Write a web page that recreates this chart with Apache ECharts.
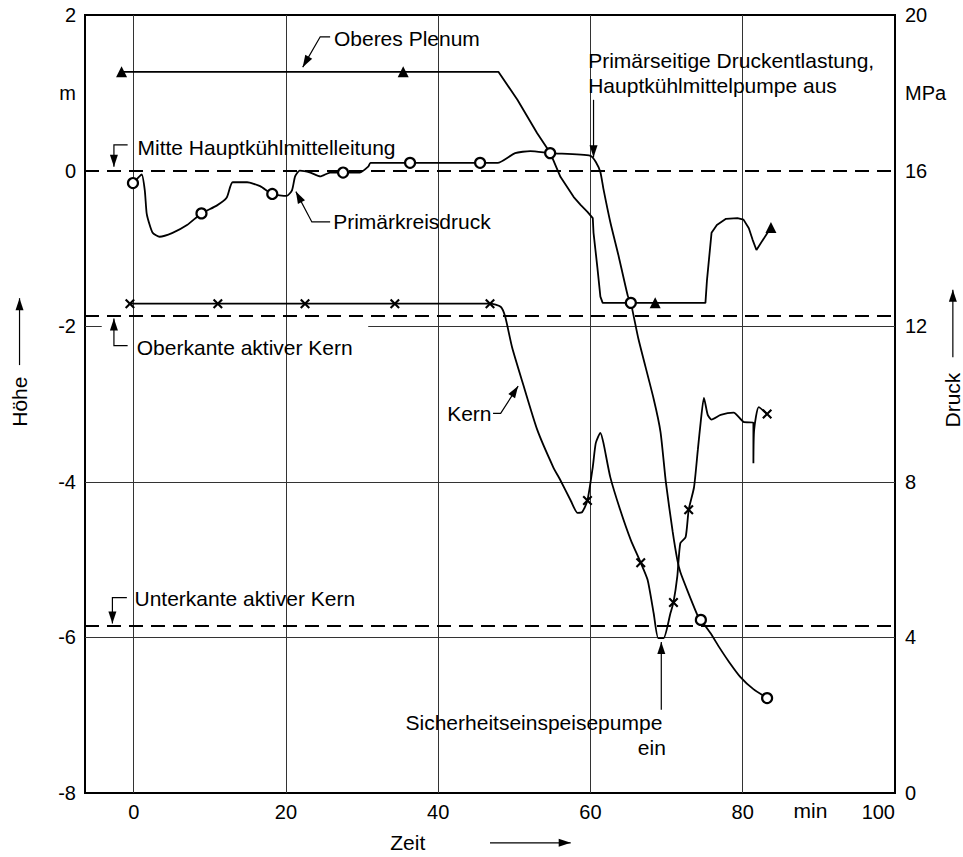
<!DOCTYPE html>
<html>
<head>
<meta charset="utf-8">
<script src="https://cdn.jsdelivr.net/npm/echarts@6/dist/echarts.min.js"></script>
<style>
  html, body { margin: 0; padding: 0; background: #fff; }
  #chart { width: 963px; height: 857px; }
</style>
</head>
<body>
<div id="chart"></div>
<script>
// Zeit in min, Höhe in m (linke Achse), Druck in MPa (rechte Achse)
const timeTicks = [0, 20, 40, 60, 80, 100];
const timeGrid = [0, 20, 40, 60, 80];
const hoeheGrid = [-4, -6];
const hoeheGridSplit = [[-6.4, -4.2], [30.8, 100]]; // -2 m line, broken near the label
// Mitte Hauptkühlmittelleitung, Oberkante / Unterkante aktiver Kern
const refLevels = [0, -1.87, -5.85];

// Oberes Plenum, Höhe [min, m]
const plenum = [
  [-1.6, 1.27], [35.4, 1.27], [47.9, 1.27], [50.4, 0.91], [53.0, 0.48],
  [54.7, 0.23], [56.05, -0.08], [57.8, -0.34], [58.7, -0.44], [59.6, -0.53],
  [60.3, -0.61], [60.4, -0.80], [60.9, -1.24], [61.3, -1.62], [61.6, -1.70],
  [68.5, -1.70], [75.1, -1.70], [75.3, -1.41], [75.9, -0.80], [76.6, -0.70],
  [77.8, -0.62], [79.3, -0.61], [80.1, -0.63], [80.8, -0.74], [81.3, -0.89],
  [81.8, -1.02], [83.7, -0.73]
];
const plenumMarks = [[-1.6, 1.27], [35.4, 1.27], [68.5, -1.70], [83.7, -0.73]];

// Primärkreisdruck [min, MPa]
const druck = [
  [-0.1, 15.68], [0.5, 15.8], [1.05, 15.9], [1.45, 15.5], [1.7, 14.9],
  [2.1, 14.6], [2.5, 14.4], [3.4, 14.3], [5.1, 14.4], [7.0, 14.6],
  [8.9, 14.9], [10.9, 15.1], [12.2, 15.3], [13.0, 15.7], [14.9, 15.7],
  [16.6, 15.6], [18.2, 15.4], [20.1, 15.35], [20.8, 15.5], [21.2, 15.85],
  [21.8, 16.0], [23.2, 15.95], [24.5, 15.85], [25.8, 15.95], [27.5, 15.95],
  [29.7, 15.95], [30.8, 16.1], [31.1, 16.2], [36.3, 16.2], [45.5, 16.2],
  [47.8, 16.2], [50.1, 16.45], [52.1, 16.5], [54.7, 16.45], [60.0, 16.38],
  [60.7, 16.22], [61.3, 15.96], [61.7, 15.53], [62.6, 14.68], [63.7, 13.8],
  [64.9, 12.78], [65.3, 12.6], [66.3, 11.67], [68.3, 10.13], [69.2, 9.28],
  [69.9, 7.99], [70.8, 6.71], [71.4, 6.0], [71.8, 5.68], [72.8, 5.17],
  [74.1, 4.55], [74.5, 4.45], [75.8, 4.1], [76.9, 3.75], [78.2, 3.37],
  [79.7, 2.98], [81.4, 2.67], [83.2, 2.44]
];
const druckMarks = [
  [-0.1, 15.68], [8.9, 14.9], [18.2, 15.4], [27.5, 15.95], [36.3, 16.2],
  [45.5, 16.2], [54.7, 16.45], [65.3, 12.6], [74.5, 4.45], [83.2, 2.44]
];

// Kern, Höhe [min, m]
const kern = [
  [-0.5, -1.71], [11.05, -1.71], [22.5, -1.71], [34.3, -1.71], [46.8, -1.71],
  [48.2, -1.75], [48.8, -1.88], [49.7, -2.27], [51.1, -2.73], [53.0, -3.33],
  [55.1, -3.81], [56.05, -3.98], [57.4, -4.24], [58.3, -4.40], [58.9, -4.39],
  [59.6, -4.24], [60.3, -3.81], [60.7, -3.50], [61.3, -3.37], [61.7, -3.50],
  [62.6, -3.94], [63.9, -4.36], [65.3, -4.75], [66.6, -5.04], [67.5, -5.26],
  [68.3, -5.69], [68.9, -6.01], [69.6, -6.01], [70.5, -5.69], [70.9, -5.55],
  [71.4, -5.22], [71.8, -4.79], [72.5, -4.71], [72.9, -4.36], [73.6, -4.07],
  [74.1, -3.59], [74.5, -3.21], [74.9, -2.92], [75.4, -3.14], [75.9, -3.20],
  [77.1, -3.14], [78.8, -3.11], [80.1, -3.23], [81.4, -3.24], [81.4, -3.76],
  [81.5, -3.33], [82.1, -3.04], [83.2, -3.13]
];
const kernMarks = [
  [-0.5, -1.71], [11.05, -1.71], [22.5, -1.71], [34.3, -1.71], [46.8, -1.71],
  [59.6, -4.24], [66.6, -5.04], [70.9, -5.55], [72.9, -4.36], [83.2, -3.13]
];

// annotations, anchored in (min, m)
const labels = [
  { text: 'Oberes Plenum', at: [26.3, 1.70], align: 'left' },
  { text: 'Mitte Hauptkühlmittelleitung', at: [0.5, 0.30], align: 'left' },
  { text: 'Primärkreisdruck', at: [26.2, -0.66], align: 'left' },
  { text: 'Primärseitige Druckentlastung,', at: [59.7, 1.42], align: 'left' },
  { text: 'Hauptkühlmittelpumpe aus', at: [59.7, 1.10], align: 'left' },
  { text: 'Oberkante aktiver Kern', at: [0.4, -2.27], align: 'left' },
  { text: 'Kern', at: [47.0, -3.12], align: 'right' },
  { text: 'Unterkante aktiver Kern', at: [0.1, -5.50], align: 'left' },
  { text: 'Sicherheitseinspeisepumpe', at: [35.7, -7.09], align: 'left' },
  { text: 'ein', at: [69.9, -7.41], align: 'right' },
  { text: 'Zeit', at: [33.7, -8.64], align: 'left' },
  { text: 'min', at: [88.9, -8.22], align: 'center' }
];
const leaders = [
  [[25.8, 1.72], [24.5, 1.72], [22.2, 1.33]],
  [[-0.8, 0.33], [-2.6, 0.33], [-2.6, 0.05]],
  [[25.8, -0.66], [23.4, -0.66], [21.3, -0.27]],
  [[60.4, 0.91], [60.4, 0.17]],
  [[-0.8, -2.25], [-2.6, -2.25], [-2.6, -1.90]],
  [[47.2, -3.12], [48.2, -3.12], [50.5, -2.77]],
  [[-0.9, -5.49], [-2.8, -5.49], [-2.8, -5.82]],
  [[69.3, -6.93], [69.3, -6.06]],
  [[46.8, -8.64], [57.4, -8.64]],
  [[-15.0, -2.50], [-15.0, -1.64]],
  [[107.6, -2.40], [107.6, -1.53]]
];
const axisNames = [
  { text: 'Höhe', at: [-15.0, -2.97] },
  { text: 'Druck', at: [107.6, -2.95] }
];

const FONT = '"Liberation Sans", Arial, Helvetica, sans-serif';
const chart = echarts.init(document.getElementById('chart'), null, { renderer: 'svg' });

const thin = { color: '#333', width: 1, type: 'solid' };
const dash = { color: '#000', width: 2, type: [14, 8] };

const markLines = [].concat(
  timeGrid.map((v) => ({ xAxis: v, lineStyle: thin })),
  hoeheGrid.map((v) => ({ yAxis: v, lineStyle: thin })),
  refLevels.map((v) => ({ yAxis: v, lineStyle: dash })),
  hoeheGridSplit.map((s) => [
    { coord: [s[0], -2], lineStyle: thin },
    { coord: [s[1], -2] }
  ])
);

const crossPath = 'path://M0,1.5L1.5,0L5,3.5L8.5,0L10,1.5L6.5,5L10,8.5L8.5,10L5,6.5L1.5,10L0,8.5L3.5,5Z';
const axisLine = { show: true, onZero: false, lineStyle: { color: '#000', width: 2 } };

const option = {
  animation: false,
  backgroundColor: '#fff',
  textStyle: { fontFamily: FONT, color: '#000' },
  grid: {
    left: 85, right: 68, top: 15, bottom: 64,
    show: true, borderColor: '#000', borderWidth: 2
  },
  xAxis: {
    type: 'value',
    min: -6.4,
    max: 100,
    axisLine: axisLine,
    axisTick: { show: false },
    splitLine: { show: false },
    axisLabel: {
      customValues: timeTicks,
      alignMaxLabel: 'right',
      color: '#000', fontSize: 20, fontFamily: FONT, margin: 9
    }
  },
  yAxis: [
    {
      type: 'value',
      min: -8, max: 2, interval: 1,
      axisLine: axisLine,
      axisTick: { show: false },
      splitLine: { show: false },
      axisLabel: {
        color: '#000', fontSize: 20, fontFamily: FONT, margin: 9,
        formatter: (v) => (v === 1 ? 'm' : (v % 2 === 0 ? String(v) : ''))
      }
    },
    {
      type: 'value',
      min: 0, max: 20, interval: 2,
      position: 'right',
      axisLine: axisLine,
      axisTick: { show: false },
      splitLine: { show: false },
      axisLabel: {
        color: '#000', fontSize: 20, fontFamily: FONT, margin: 10,
        formatter: (v) => (v === 18 ? 'MPa' : (v % 4 === 0 ? String(v) : ''))
      }
    }
  ],
  series: [
    {
      name: 'Oberes Plenum',
      type: 'line',
      data: plenum,
      symbol: 'none',
      lineStyle: { color: '#000', width: 1.8 },
      z: 3,
      markLine: { silent: true, symbol: 'none', label: { show: false }, data: markLines, z: 1 }
    },
    {
      name: 'Primärkreisdruck',
      type: 'line',
      yAxisIndex: 1,
      data: druck,
      symbol: 'none',
      smooth: 0.2,
      lineStyle: { color: '#000', width: 1.8 },
      z: 3
    },
    {
      name: 'Kern',
      type: 'line',
      data: kern,
      symbol: 'none',
      smooth: 0.2,
      lineStyle: { color: '#000', width: 1.8 },
      z: 3
    },
    {
      type: 'scatter', data: plenumMarks, symbol: 'triangle', symbolSize: 11,
      itemStyle: { color: '#000', opacity: 1 }, z: 5
    },
    {
      type: 'scatter', yAxisIndex: 1, data: druckMarks, symbol: 'circle', symbolSize: 10,
      itemStyle: { color: '#fff', borderColor: '#000', borderWidth: 2.2, opacity: 1 }, z: 5
    },
    {
      type: 'scatter', data: kernMarks, symbol: crossPath, symbolSize: 10,
      itemStyle: { color: '#000', opacity: 1 }, z: 5
    }
  ]
};

chart.setOption(option);

// annotations: positions converted through the chart's own scales
const toPx = (p) => chart.convertToPixel({ xAxisIndex: 0, yAxisIndex: 0 }, p);

function arrowHead(a, b, len, w) {
  const dx = b[0] - a[0], dy = b[1] - a[1];
  const L = Math.hypot(dx, dy) || 1;
  const ux = dx / L, uy = dy / L;
  const bx = b[0] - ux * len, by = b[1] - uy * len;
  return [[b[0], b[1]], [bx - uy * w, by + ux * w], [bx + uy * w, by - ux * w]];
}

const graphics = [];
labels.forEach((l) => {
  const p = toPx(l.at);
  graphics.push({
    type: 'text', x: p[0], y: p[1], z: 10,
    style: {
      text: l.text, fill: '#000', font: '21px ' + FONT,
      textAlign: l.align, textVerticalAlign: 'middle'
    }
  });
});
axisNames.forEach((n) => {
  const p = toPx(n.at);
  graphics.push({
    type: 'text', x: p[0], y: p[1], rotation: Math.PI / 2, z: 10,
    style: {
      text: n.text, fill: '#000', font: '21px ' + FONT,
      textAlign: 'center', textVerticalAlign: 'middle'
    }
  });
});
leaders.forEach((pts) => {
  const px = pts.map(toPx);
  const a = px[px.length - 2], b = px[px.length - 1];
  graphics.push({
    type: 'polyline', z: 10,
    shape: { points: px },
    style: { stroke: '#000', lineWidth: 1.2, fill: null }
  });
  graphics.push({
    type: 'polygon', z: 10,
    shape: { points: arrowHead(a, b, 12, 4) },
    style: { fill: '#000' }
  });
});

chart.setOption({ graphic: graphics });
</script>
</body>
</html>
